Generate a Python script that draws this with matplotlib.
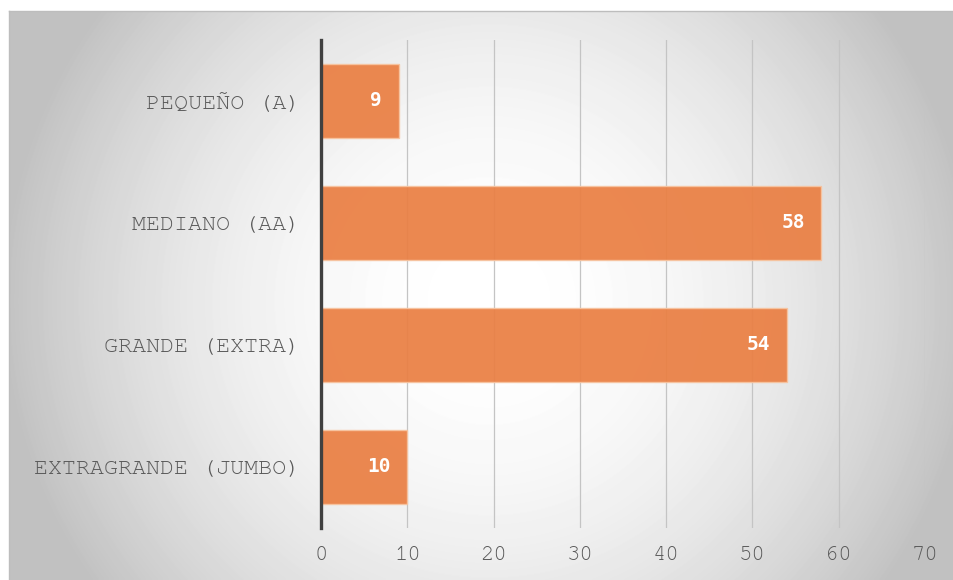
import numpy as np
import matplotlib.pyplot as plt

# tamaños de huevo y cantidades
categorias = ['PEQUEÑO (A)', 'MEDIANO (AA)', 'GRANDE (EXTRA)', 'EXTRAGRANDE (JUMBO)']
valores = [9, 58, 54, 10]
ticks_x = [0, 10, 20, 30, 40, 50, 60, 70]

W, H = 954, 580
fig = plt.figure(figsize=(W / 100, H / 100), dpi=100)

# fondo con degradado radial dentro del marco
bg = fig.add_axes([9 / W, 0, 1 - 9 / W, 1 - 11 / H])
yy, xx = np.mgrid[0:569, 0:945]
d = np.hypot(xx - 480, yy - 290) / 480
grad = np.clip(255 - 60 * d ** 2, 194, 255) / 255
bg.imshow(grad, cmap='gray', vmin=0, vmax=1, aspect='auto', interpolation='bilinear')
bg.set_xticks([])
bg.set_yticks([])
for s in bg.spines.values():
    s.set_color('#BDBDBD')
    s.set_linewidth(1)
bg.spines['right'].set_visible(False)
bg.spines['bottom'].set_visible(False)

ax = fig.add_axes([321 / W, 1 - 528 / H, (925 - 321) / W, (528 - 40) / H])
ax.patch.set_alpha(0)

y = np.arange(len(categorias))
bars = ax.barh(y, valores, height=0.6, color='#EA7F43', alpha=0.93,
               edgecolor='#F7C4A0', linewidth=1, zorder=2)

for b, v in zip(bars, valores):
    ax.annotate(str(v), (v, b.get_y() + b.get_height() / 2),
                xytext=(-12, 0), textcoords='offset points',
                ha='right', va='center', color='white',
                fontsize=14, fontweight='bold', family='DejaVu Sans Mono', zorder=3)

ax.set_xlim(0, 70)
ax.set_ylim(len(categorias) - 0.5, -0.5)
ax.set_xticks(ticks_x)
ax.set_yticks(y)
ax.set_yticklabels(categorias, family='FreeMono', fontsize=16.8, color='#595959')
ax.set_xticklabels([str(t) for t in ticks_x], family='FreeMono', fontsize=16, color='#595959')
ax.tick_params(axis='y', length=0, pad=15)
ax.tick_params(axis='x', length=0, pad=13)

ax.grid(axis='x', color='#C4C4C4', linewidth=0.9, zorder=1)
ax.set_axisbelow(True)
for s in ['top', 'right', 'bottom']:
    ax.spines[s].set_visible(False)
ax.spines['left'].set_color('#404040')
ax.spines['left'].set_linewidth(2.4)
ax.spines['left'].set_zorder(4)

fig.savefig('out.png', dpi=100)
